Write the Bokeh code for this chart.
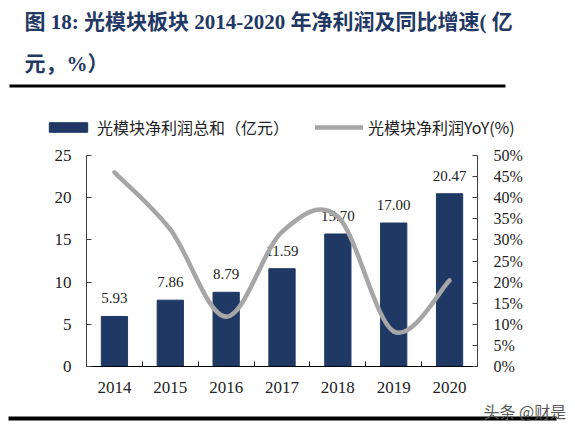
from bokeh.plotting import figure
from bokeh.models import (Range1d, LinearAxis, FixedTicker, PrintfTickFormatter, Legend,
                          LegendItem, Label, BoxAnnotation, ColumnDataSource)
from bokeh.core.properties import value
from bokeh.embed import file_html
from bokeh.resources import INLINE

# ---- data ----
years = [2014, 2015, 2016, 2017, 2018, 2019, 2020]
net_profit = [5.93, 7.86, 8.79, 11.59, 15.70, 17.00, 20.47]
profit_labels = ["5.93", "7.86", "8.79", "11.59", "15.70", "17.00", "20.47"]
yoy_pct = [46.0, 32.5, 11.8, 31.9, 35.5, 8.3, 20.4]
left_ticks = [0, 5, 10, 15, 20, 25]
right_ticks = [0, 5, 10, 15, 20, 25, 30, 35, 40, 45, 50]
title_line1 = "图 18: 光模块板块 2014-2020 年净利润及同比增速( 亿"
title_line2 = "元，%）"
legend_bar = "光模块净利润总和（亿元）"
legend_line = "光模块净利润YoY(%)"
watermark = "头条 @财是"

NAVY = "#1F3864"
GRAY = "#A6A6A6"
SERIF = "Liberation Serif"
CJK = "Noto Sans CJK SC"

# ---- layout (pixels) ----
W, H = 575, 431
PL, PR, PT, PB = 86, 477, 155, 366          # plot-area edges on the canvas
X0, X1 = years[0] - 0.5, years[-1] + 0.5
Y0, Y1 = left_ticks[0], left_ticks[-1]
R0, R1 = right_ticks[0], right_ticks[-1]
kx = (X1 - X0) / (PR - PL)
ky = (Y1 - Y0) / (PB - PT)
kr = (R1 - R0) / (PB - PT)

p = figure(width=W, height=H,
           x_range=Range1d(X0 - PL * kx, X1 + (W - PR) * kx),
           y_range=Range1d(Y0 - (H - PB) * ky, Y1 + PT * ky),
           output_backend="svg", toolbar_location=None, x_axis_type=None, y_axis_type=None,
           min_border=0)
p.extra_y_ranges = {"pct": Range1d(R0 - (H - PB) * kr, R1 + PT * kr)}
p.grid.visible = False
p.outline_line_color = None

# ---- axes ----
xaxis = LinearAxis(ticker=FixedTicker(ticks=years, minor_ticks=[y - 0.5 for y in years] + [X1]),
                   fixed_location=Y0, bounds=(X0, X1),
                   major_tick_line_color=None, major_tick_out=0, major_tick_in=0,
                   minor_tick_in=5, minor_tick_out=0, minor_tick_line_color="black",
                   axis_line_color="black", major_label_standoff=15,
                   major_label_text_font=SERIF, major_label_text_font_size="17px",
                   major_label_text_color="#222222")
yleft = LinearAxis(ticker=FixedTicker(ticks=left_ticks), fixed_location=X0, bounds=(Y0, Y1),
                   major_tick_in=5, major_tick_out=0,
                   minor_tick_line_color=None, axis_line_color="#404040", major_tick_line_color="#404040",
                   major_label_standoff=15, major_label_text_font=SERIF,
                   major_label_text_font_size="17px", major_label_text_color="#222222")
yright = LinearAxis(y_range_name="pct", ticker=FixedTicker(ticks=right_ticks),
                    fixed_location=X1, bounds=(R0, R1),
                    formatter=PrintfTickFormatter(format="%d%%"),
                    major_tick_in=5, major_tick_out=0, minor_tick_line_color=None,
                    axis_line_color="#404040", major_tick_line_color="#404040",
                    major_label_standoff=16, major_label_text_font=SERIF,
                    major_label_text_font_size="16px", major_label_text_color="#222222")
p.add_layout(yleft, "left")
p.add_layout(yright, "right")
p.add_layout(xaxis, "below")

# ---- marks ----
src = ColumnDataSource(dict(x=years, top=net_profit, lab=profit_labels))
bars = p.vbar(x="x", top="top", width=0.47, source=src, fill_color=NAVY, line_color=NAVY)
p.text(x="x", y="top", text="lab", source=src, text_align="center", text_baseline="bottom",
       y_offset=-13, text_font=value(SERIF), text_font_size="15px", text_color="#222222")

# smoothed YoY line drawn as bezier segments through the data points
n = len(years)
x0, y0, x1, y1, cx0, cy0, cx1, cy1 = [], [], [], [], [], [], [], []
for i in range(n - 1):
    xm1, ym1 = (years[i - 1], yoy_pct[i - 1]) if i > 0 else (years[i], yoy_pct[i])
    xp2, yp2 = (years[i + 2], yoy_pct[i + 2]) if i + 2 < n else (years[i + 1], yoy_pct[i + 1])
    x0.append(years[i]); y0.append(yoy_pct[i])
    x1.append(years[i + 1]); y1.append(yoy_pct[i + 1])
    cx0.append(years[i] + (years[i + 1] - xm1) / 6); cy0.append(yoy_pct[i] + (yoy_pct[i + 1] - ym1) / 6)
    cx1.append(years[i + 1] - (xp2 - years[i]) / 6); cy1.append(yoy_pct[i + 1] - (yp2 - yoy_pct[i]) / 6)
curve = p.bezier(x0=x0, y0=y0, x1=x1, y1=y1, cx0=cx0, cy0=cy0, cx1=cx1, cy1=cy1,
                 y_range_name="pct", line_color=GRAY, line_width=4.5, line_cap="round")

legend = Legend(items=[LegendItem(label=legend_bar, renderers=[bars]),
                       LegendItem(label=legend_line, renderers=[curve])],
                location=(44, H - 139), orientation="horizontal", glyph_width=48, glyph_height=12,
                spacing=26, label_standoff=5, padding=0, margin=0, border_line_color=None,
                background_fill_alpha=0, label_text_font=CJK, label_text_font_size="16px",
                label_text_color="#222222", label_height=20)
p.add_layout(legend, "center")

# ---- title, rules, watermark (screen units from the canvas bottom-left) ----
for txt, yy in [(title_line1, H - 21), (title_line2, H - 63)]:
    p.add_layout(Label(x=24, y=yy, x_units="screen", y_units="screen", text=txt,
                       text_baseline="middle", text_font=f"{SERIF}, '{CJK}'",
                       text_font_size="21px", text_font_style="bold", text_color=NAVY))
for l, r, b, t in [(9, 505, H - 87, H - 84), (8, 556, H - 420, H - 416)]:
    p.add_layout(BoxAnnotation(left=l, right=r, bottom=b, top=t,
                               left_units="screen", right_units="screen",
                               bottom_units="screen", top_units="screen",
                               fill_color="black", fill_alpha=1, line_color=None))
p.add_layout(Label(x=483, y=H - 410, x_units="screen", y_units="screen", text=watermark,
                   text_baseline="middle", text_font=CJK, text_font_size="16px",
                   text_color="#595959"))

open("out.html", "w").write(file_html(p, INLINE))
